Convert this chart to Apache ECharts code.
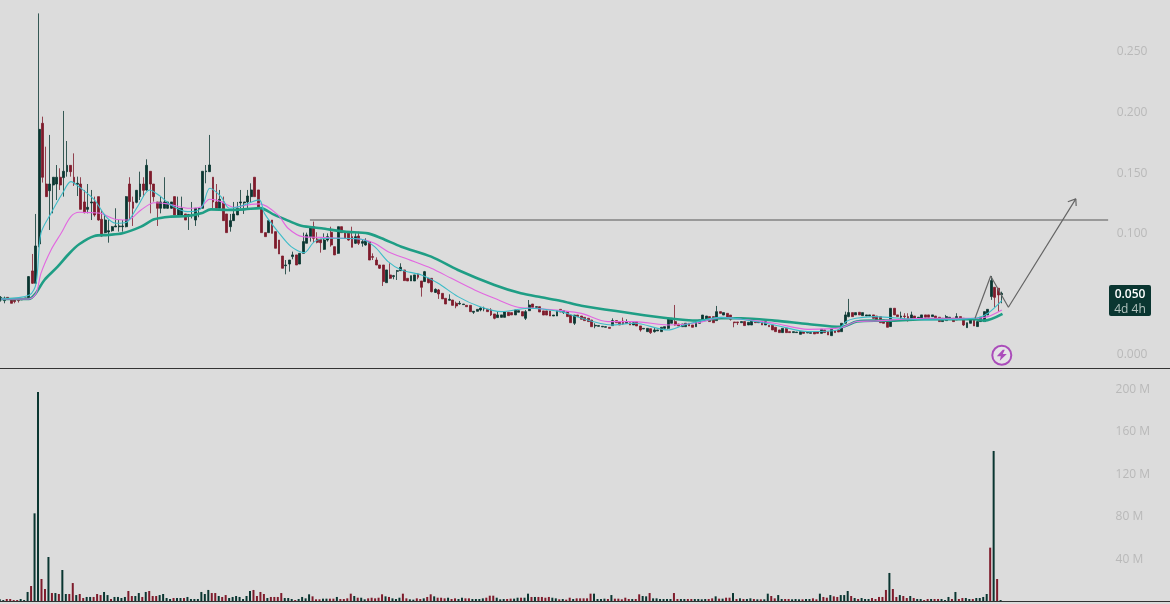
<!DOCTYPE html>
<html><head><meta charset="utf-8">
<style>html,body{margin:0;padding:0;background:#dcdcdc;overflow:hidden}#c{width:1170px;height:604px}</style>
<script src="https://cdn.jsdelivr.net/npm/echarts@6/dist/echarts.min.js"></script>
</head><body><div id="c"></div>
<script>
// Prices are in thousandths (0.050 = 50)
const directions = ["uudddduuud","uudduuuduu","ddudduuddd","uuuuuuuddu","ududdduuuu","duuduuuuuu","uddudduuuu","uuuddddudd","dduuuduuuu","ddduuddudd",
"dduduudddd","duduuudduu","dduddudddu","dduudduuuu","ddduuudduu","duududdddu","ududdudddd","duuuududdd","ududduuduu","uuuudduudd",
"uuuuddudud","ddduduudud","uddddudduu","uduudduddu","dduuududuu","uddddduddu","dduduuddud","duuududduu","duuuuuddu"].join("");
const bodyTop = [45.9,45.1,45.9,44.3,43.8,44.3,44.9,45.4,63,67.7,
88.3,184.5,189.5,139.4,139.4,145,145,145,149.9,154.8,
154.8,145,140,139.4,124.6,120.2,124.6,124.6,129,110.3,
109.7,100.9,104.2,104.8,104.8,104.8,129,139.4,124.6,134.2,
139.4,139.4,154.8,149.9,139.4,124.6,124.6,124.6,124.6,124.6,
129,119.4,119.4,114.7,114.2,114.2,119.4,119.4,149.9,150.2,
155.1,145,124.6,126.8,124.6,114.7,109.2,114.7,119.4,124.6,
124.6,129.5,134.5,145,134.5,119.4,99.3,109.2,109.7,100.1,
93.2,80,72.6,76.7,80.9,80.9,82.2,91.9,97.4,104.2,
104.2,94,93.8,93.2,96,99.6,87.7,104.2,104.2,99.6,
99.6,96,96,96.5,91.9,92.7,91.9,79.5,76.7,72.6,
72.6,68.5,64.4,63.8,67.9,70.7,68.5,61.6,63.8,64.4,
65.2,59.4,67.1,61.6,61.6,52.5,52,49.2,45.1,44.3,
43.7,41,41,40.4,39.3,39.3,34.4,36,37.1,36.9,
36,35.5,32.2,31.4,31.4,33.8,33.6,33.3,35.5,34.9,
34.1,34.1,39.6,40.4,38.2,38.2,34.7,34.7,34.7,31.3,
34.9,36,34.9,34.1,31.3,31.3,31.3,30.5,29.4,28.6,
27.2,22.8,22.6,22,21.7,21.2,26.7,26.7,25.9,26.4,
25.9,25,25,25.6,22.3,20.3,20.3,20,19,19,
21.2,21.7,28.6,28.6,25.9,23.9,23.9,24.5,24.5,23.1,
26.7,27.2,31.3,30.5,30,30,34.1,34.1,33.3,32.7,
31.3,25.6,25.6,25.9,25.9,25.3,26.7,25.9,25.6,25.9,
25.9,22.8,22.8,21.2,19,20.3,20.3,17.6,17.6,17.3,
17.6,17.6,17,16.8,17.6,17.6,19.5,19,17.6,19.5,
18.4,19,24.5,31.4,33.3,33.3,33.3,33.6,33.3,31.4,
31.4,31.4,30.5,30,27.3,25.9,36.9,36.9,31.4,30.5,
30.5,30,31.4,30.5,29.5,31.4,31.4,31.4,31.4,30.5,
29.5,28.6,30,29.5,28.6,30,30,28.6,25,27.3,
27.3,25.9,29.5,34.1,36,59.7,54.2,53.4,49.2];
const bodyBottom = [43.8,43.2,44.3,41,42.4,43.2,43.8,44.6,44.3,57.5,
57.5,90,145,129,133.9,138.6,139.4,138.6,144.7,149.6,
149.6,139.4,139.2,118.5,115.8,118.5,123.8,113.9,109.7,96.5,
99.3,99.8,100.9,104,104.2,104.2,104.2,124.9,119.4,124.3,
129,134.2,134.5,139.4,129,119.4,119.4,119.4,119.4,119.4,
113.9,113.9,113.9,109.7,113.6,113.6,109.7,118.8,119.4,149.6,
149.6,124.6,119.4,119.4,109.2,99.3,104.2,109.2,113.9,123.8,
123.8,124.6,129,129,119.4,99.3,96,99.3,98.7,86.4,
81.7,69.9,72,73.4,79.5,72.6,73.4,82.2,90.5,96,
94.6,91.3,91,85.5,93.2,89.1,80.9,82.2,99.3,94.6,
93.2,87.2,90.5,90.5,90.5,89.1,76.7,78.9,72.6,69.9,
58.9,58,61.6,63,67.4,67.9,59.7,59.4,59.4,59.4,
62.4,54.2,58.9,58,50.6,50,48.7,44.6,40.4,43.5,
39.3,38.8,40.4,39.9,38.2,34.1,33.6,34.4,35.5,36.3,
34.1,31.4,28.6,29.2,29.4,29.4,30.8,31.4,31.4,33.6,
30.5,28.6,34.9,37.7,37.7,33.8,31.3,31.3,30.5,30.5,
30.5,33.8,33.3,30,25,24.5,30,27.8,26.7,25.9,
21.7,22.3,22,21.5,21.2,20.3,22.6,25,23.1,23.9,
24.5,23.1,23.1,22.3,19,19.8,17.6,16.8,17.6,18.2,
17.6,20.3,20.3,24.5,23.1,22.3,21.7,21.7,22.3,21.2,
21.7,24.5,26.4,27.8,25.9,25,26.7,32.7,31.3,29.4,
27.8,25,25,25,22.6,23.1,23.1,25,25,23.1,
23.1,21.7,19,17.6,16.8,16.8,16.8,16.8,16.8,16.8,
15.4,16.2,16.5,16.2,15.7,16.2,16.2,16.8,14.9,14.3,
16.8,17.3,17.6,24.5,30,30,31.4,31.4,30.8,30.5,
30.5,28.6,27.3,25,24.5,21.2,21.8,31.4,30,29.5,
30,26.7,28.6,28.6,28.6,28.6,29.5,29.5,30,28.6,
25.9,25.9,26.7,27.8,25.9,27.3,27.8,23.1,20.9,24.5,
22.3,21.8,25.9,25.9,31.4,46.5,45.9,47.9,48.1];
const wickHigh = [47,46.5,46,44.3,43.8,44.3,44.9,45.4,63.5,81.7,
114.7,280.2,195,170.2,179.9,145,155.1,152.4,199.7,174.9,
154.8,164.7,145.5,145,134.5,139.4,134.5,129,129,118,
114.7,109.7,104.8,119.4,109.7,109.7,129.5,145,129,134.5,
149.6,145,159.8,149.9,139.4,124.6,129,145,124.6,124.6,
129,129,129,114.7,114.7,124.6,119.4,119.4,149.9,155.1,
179.9,145,139.4,134.5,129,114.7,114.7,124.6,124.6,134.5,
124.6,134.5,140,145,134.5,119.4,99.3,109.2,109.7,100.1,
93.2,80,76.7,76.7,83.6,80.9,82.2,99.3,99.3,104.2,
108.4,99.6,93.8,98.7,98.7,104.2,87.7,104.2,104.2,99.6,
99.6,104.2,98.7,100.1,93.8,94.6,91.9,82.2,78.9,72.6,
72.6,68.5,74,64.4,68.5,74,68.5,61.6,63.8,64.4,
65.7,59.4,67.7,61.6,61.6,53.3,52.8,49.2,45.1,48.4,
43.7,42.4,42.9,40.4,39.3,39.3,34.4,36,37.7,38.2,
36,36.9,32.2,34.1,31.4,33.8,33.6,33.3,35.5,34.9,
34.1,35.5,43.7,40.4,38.2,38.2,34.7,34.7,34.7,31.3,
34.9,36,34.9,34.1,31.3,31.3,31.3,30.5,29.4,28.6,
27.2,24.5,22.6,22,21.7,21.2,28.6,26.7,25.9,29.2,
27.8,25,25.9,25.6,22.3,20.3,20.3,20,21.2,19,
21.2,21.7,28.6,28.6,39.6,23.9,23.9,24.5,24.5,23.1,
26.7,27.2,31.3,30.5,30,30,38.8,34.1,33.3,32.7,
31.3,25.6,25.6,25.9,25.9,25.3,26.7,25.9,25.6,25.9,
25.9,22.8,22.8,21.2,19,20.3,20.3,17.6,17.6,17.3,
17.6,17.6,17,16.8,17.6,17.6,19.5,19,17.6,19.5,
18.4,19,24.5,34.1,44.6,33.3,33.3,33.6,33.3,31.4,
31.4,31.4,30.5,30,27.3,25.9,36.9,36.9,31.4,34.1,
32.8,32.8,34.1,30.5,29.5,31.4,31.4,31.4,31.4,30.5,
29.5,28.6,31.4,29.5,28.6,32.8,30,28.6,25,27.3,
27.3,25.9,29.5,34.1,36,63.5,54.2,53.4,50.6];
const wickLow = [42.4,41,44,41,41,41.6,43.7,44.4,43.7,57,
57.5,87.2,140.6,129,101.5,115.2,126.2,134.5,129,145.5,
145.5,137.8,129.5,118.5,115.2,115.2,109.7,112.5,109.2,96,
98.8,91,100.1,104,100.1,100.1,103.7,109.7,104.8,123.5,
126.2,129,133.9,115.2,124.9,104.8,115.2,119.4,119,119,
113.9,113.9,113,109.7,101.5,111,104.8,112,119.4,140,
149.6,119.4,119.4,119.4,109.2,99.3,100.1,109.2,113.9,119.4,
114.7,119.4,124.6,129,119.4,99.3,96,99.3,98.7,86.4,
81.7,69.9,64.9,67.1,77.3,72.6,73.4,82.2,90.5,91.9,
91,90.5,82.8,85,91.9,87.7,80.9,81.7,99.3,94.6,
92.7,87.2,89.9,89.1,87.7,88.6,76.7,76.7,72.6,69.3,
55.3,58,61.1,60.8,60.2,67.9,59.4,59.4,59.4,59.4,
60.8,46.5,58.6,57.5,50,49.5,44.6,44.6,40.4,43.2,
39.3,36.9,39.9,39.9,38.2,34.1,32.2,34.4,34.4,34.4,
34.1,30.5,27.8,29.2,29.4,29.4,30.8,31.4,31.4,33.6,
30.5,27.2,34.6,37.7,37.7,33.8,31.3,31.3,30.5,30.5,
30.5,33.8,32.2,30,25,23.1,30,27.8,26.7,25.9,
21.7,20.4,22,21.5,21.2,20.3,22.6,25,23.1,23.1,
24.5,23.1,23.1,22.3,17.6,19.8,17.6,15.7,16.8,18.2,
17.6,20.3,19.5,24.5,22.6,22.3,21.7,21.7,22.3,21.2,
21.7,24.5,26.4,27.8,25.9,25,26.7,32.7,31.3,29.4,
26.7,21.2,23.1,25,22.6,23.1,23.1,25,25,23.1,
23.1,21.7,19,17.6,16.8,16.8,16.8,16.8,16.8,16.8,
15.4,16.2,16.5,16.2,15.7,16.2,16.2,16.8,14.9,14.3,
16.8,17.3,17.6,24.5,29.5,30,31.4,31.4,30.8,30.5,
30.5,28.6,27.3,25,24.5,21.2,21.8,31.4,30,27.3,
26.7,25.9,28.6,28.6,28.6,28.6,29.5,29.5,30,28.6,
25.9,25.9,26.7,27.8,25.9,27.3,27.8,22.3,20.9,24.5,
22.3,21.8,25.9,25.9,31.4,43.8,37.7,34.1,41];
// Volume in millions
const volumes = [1.6,.9,1.9,1.9,.9,.9,1.9,.9,8.5,14.1,
82.5,196.7,20.7,11.3,41.4,7.5,7.5,6.6,29.2,6.6,
6.6,16.9,5.6,6.6,2.8,3.8,3.8,3.8,6.6,5.6,
8.5,5.6,1.9,3.8,3.8,2.8,3.8,9.4,4.7,4.7,
7.5,3.8,8.5,9.4,4.7,4.7,5.6,6.6,2.8,1.9,
2.8,2.8,2.8,2.8,3.8,1.9,1.9,1.9,8.5,6.6,
10.4,7.5,7.5,4.7,3.8,5.6,2.8,3.8,4.7,3.8,
1.9,4.7,9.4,10.4,4.7,8.5,6.6,2.8,3.8,3.8,
3.8,7.5,2.8,2.8,1.9,.9,1.9,
3.8,2.5,6.3,4.4,1.6,1.6,2.2,2.2,2.2,2.2,3.8,1.9,1.9,2.5,6.9,4.7,3.1,3.1,1.6,2.5,
3.1,2.5,3.1,6.3,4.4,3.8,2.5,1.9,3.1,6.9,2.5,1.6,1.3,2.5,1.9,2.5,3.8,6.3,4.4,3.1,
3.1,2.5,3.1,1.9,2.5,1.9,3.1,2.5,2.5,1.9,1.9,1.9,2.5,3.1,5,5,3.1,1.6,1.9,1.9,
2.2,2.2,3.1,3.1,3.1,6.9,3.8,3.8,3.8,3.8,3.1,3.8,3.1,2.5,1.6,1.9,1.3,3.1,1.9,2.5,2.5,2.5,
2.5,6.9,6.9,1.9,1.9,2.2,1.9,5.6,2.2,2.2,1.6,3.1,1.9,1.9,1.9,6.3,4.7,4.4,7.5,2.5,
2.5,1.9,1.9,1.9,1.9,7.5,1.9,1.9,1.9,1.9,1.9,1.9,1.9,1.6,1.9,1.9,2.5,4.4,2.2,2.2,
3.1,3.1,7.5,1.9,2.5,1.9,1.9,2.5,1.9,1.6,1.6,1.6,6.9,4.7,2.5,5.6,1.9,1.9,1.9,1.6,
1.9,1.6,1.6,1.9,1.9,2.5,1.6,6.9,3.8,3.1,5.6,4.4,3.8,5.6,5.6,9.4,
4.7,2.8,1.9,2.8,1.9,1.9,2.8,1.9,3.8,3.8,10.4,26.4,11.3,3.8,5.6,4.7,2.8,4.7,2.8,1.9,
1.9,.9,1.9,1.9,1.9,1.9,1.9,.9,3.8,1.9,8.5,1.9,2.8,2.8,1.9,1.9,2.8,2.8,3.8,6.6,
50.2,141.2,20.7,.9];
const volumeRedAt = [15,32,180,285];
const volumeDarkAt = [211,221,224,286];
// Moving averages as [bar position, price]
const emaSlow = [[0,44.5],[8,44.5],[10,49.2],[12.5,60.2],[16.3,71.2],[19.7,82.3],[22.5,89.7],[26.9,96.5],[30.7,97.4],[35,98.8],[40.3,104.3],[44.1,110.3],[48.9,112.5],[53.7,113],[57.6,115.2],[60.4,118.5],[65.2,118],[70,118.5],[74.6,119.5],[78.7,113.9],[82.6,109.2],[86.4,105],[92.2,102.9],[98.8,100.1],[105.6,98.7],[109.5,94.6],[115.2,87.7],[123.8,79.5],[131.5,68.5],[142,56.1],[149.6,49.2],[155.5,45.9],[161.2,42.9],[167,39],[179.4,33.6],[191.9,28.6],[200.5,26.7],[207.3,28.6],[213,28.6],[222.6,26.7],[232.2,23.9],[241.8,21.5],[246.3,25.9],[251.4,26.7],[256.2,26.7],[265.8,27.8],[280.2,27.8],[283,26.7],[288.2,32.2]];
const emaMid = [[0,44.5],[8,44.5],[10.1,49.2],[11.5,65.7],[14.4,85],[17.3,98.8],[20.1,112.5],[22.5,116.1],[25.9,115.8],[28.8,115.2],[32.6,110.6],[36.5,109.7],[40.3,118],[44.1,124],[48,123],[53.7,119.4],[57.6,120.7],[60,126.8],[63.3,124.9],[67.1,120.2],[71,122.1],[74.5,123],[79.7,113.9],[82.6,102.9],[86.8,96],[92.2,95.4],[97.9,94.6],[103.7,93.8],[107.5,90.5],[111.4,83.6],[117.1,77.3],[123.8,69.9],[129.6,61.6],[136.3,52],[142,45.1],[148.8,37.7],[153.5,36.9],[161.2,35],[167,32.7],[174.6,25.9],[182.3,25.9],[191.9,23.1],[200.5,25],[207.3,29.4],[213,27.8],[222.6,24.5],[232.2,19.5],[241.8,20.9],[246.3,26],[251.4,26.4],[265.8,28.6],[280.2,28.6],[284,30],[288,35.5]];
const emaFast = [[0,44.5],[8.2,47.9],[10.1,57.5],[11.5,98.8],[14.4,115.3],[17.7,131.8],[20.1,141.4],[23,135.9],[26.9,126.3],[30.2,112.5],[33.1,107],[36,107.6],[39.3,120.8],[42.7,134.5],[46,129],[48.9,122.1],[53.7,116.6],[57.6,119.4],[60.1,135.9],[63.3,129],[65.7,119.4],[69.1,121.3],[74.3,126.3],[75.8,115.2],[79.7,100.1],[83.5,87.7],[87.3,82.8],[90.2,91.9],[94,94.6],[97.9,94.6],[103.7,93.8],[107.5,87.7],[111.4,75.4],[115.2,68.5],[121,64.4],[125.8,57.5],[131.5,46.5],[137.3,38.8],[144,34.1],[151.6,36.9],[161.2,34.1],[165,30.5],[175.6,23.1],[182.3,24.5],[191.9,19],[196.7,23.1],[207.3,29.4],[213,27.8],[222.6,23.1],[232.2,17.6],[240.8,19],[243.2,25.9],[246,28.6],[251.4,30],[265.8,27.3],[280.2,28.6],[284,32.8],[288,43.2]];
const levelLine = [[88.9,109.7],[318.6,109.7]];
const projection = [[280.3,28.6],[284.8,63.5],[289.9,37.7],[309.3,127.1]];
const arrowHead = [[307,124.8],[309.3,127.1],[309.4,121.3]];
const flashMark = [[288,-1.9]];
const priceTicks = [0,100,150,200,250];
const volumeTicks = [40,80,120,160,200];
const lastPrice = "0.050", countdown = "4d 4h";

const DARK = "#0a3631", RED = "#7e1b2b";
const TOTAL_SLOTS = 338, SLOT = 3.475;
const categories = Array.from({length: TOTAL_SLOTS}, (_, i) => String(i));
const candles = bodyTop.map((t, i) => {
  const up = directions[i] === "u";
  return [up ? bodyBottom[i] : t, up ? t : bodyBottom[i], wickLow[i], wickHigh[i]];
});
const volumeBars = volumes.map((v, i) => {
  let up = directions[i] === "u";
  if (volumeRedAt.includes(i)) up = false;
  if (volumeDarkAt.includes(i)) up = true;
  return {value: v, itemStyle: {color: up ? DARK : RED}};
});
const plotWidth = TOTAL_SLOTS * SLOT;
const labelBase = {inside: true, align: "left", margin: 57, color: "#b9b9b9", fontFamily: "Open Sans", fontSize: 12, verticalAlign: "top"};
const lineBase = {type: "line", xAxisIndex: 2, yAxisIndex: 0, showSymbol: false, symbol: "none", silent: true, animation: false, z: 4};
const separator = {onZero: false, lineStyle: {color: "#333", width: 1}};
const chart = echarts.init(document.getElementById("c"), null, {renderer: "canvas"});
chart.setOption({
  animation: false,
  backgroundColor: "#dcdcdc",
  grid: [
    {left: -0.74, top: 0, width: plotWidth, height: 368, outerBoundsMode: "none"},
    {left: -1.94, top: 370, width: plotWidth, height: 231, outerBoundsMode: "none"}
  ],
  xAxis: [
    {type: "category", gridIndex: 0, data: categories, axisTick: {show: false}, axisLabel: {show: false}, axisLine: separator, splitLine: {show: false}},
    {type: "category", gridIndex: 1, data: categories, axisTick: {show: false}, axisLabel: {show: false}, axisLine: separator, splitLine: {show: false}},
    {type: "value", gridIndex: 0, min: -0.5, max: TOTAL_SLOTS - 0.5, show: false}
  ],
  yAxis: [
    {type: "value", gridIndex: 0, position: "right", scale: true, min: -12.4, max: 291.25, splitLine: {show: false}, axisLine: {show: false}, axisTick: {show: false},
     axisLabel: Object.assign({}, labelBase, {lineHeight: 4, customValues: priceTicks, formatter: v => (v / 1000).toFixed(3)})},
    {type: "value", gridIndex: 1, position: "right", min: 0, max: 217.4, splitLine: {show: false}, axisLine: {show: false}, axisTick: {show: false},
     axisLabel: Object.assign({}, labelBase, {lineHeight: 2, customValues: volumeTicks, formatter: v => v + " M"})}
  ],
  series: [
    {type: "candlestick", xAxisIndex: 0, yAxisIndex: 0, data: candles, barWidth: 2.4, silent: true, z: 3,
     itemStyle: {color: DARK, color0: RED, borderColor: DARK, borderColor0: RED, borderWidth: 0.8}},
    {type: "bar", xAxisIndex: 1, yAxisIndex: 1, data: volumeBars, barWidth: 2, silent: true},
    Object.assign({}, lineBase, {data: emaSlow, smooth: 0.3, lineStyle: {color: "#1f9e85", width: 2.6}}),
    Object.assign({}, lineBase, {data: emaMid, smooth: 0.3, lineStyle: {color: "#e267e0", width: 1.1}}),
    Object.assign({}, lineBase, {data: emaFast, smooth: 0.3, lineStyle: {color: "#3dbcc8", width: 1.1}}),
    Object.assign({}, lineBase, {data: levelLine, lineStyle: {color: "#999", width: 2}}),
    Object.assign({}, lineBase, {data: projection, lineStyle: {color: "#666", width: 1.2}, z: 5}),
    Object.assign({}, lineBase, {data: arrowHead, lineStyle: {color: "#666", width: 1.2}, z: 5}),
    {type: "scatter", xAxisIndex: 2, yAxisIndex: 0, data: flashMark, symbol: "circle", symbolSize: 19, silent: true, z: 6,
     itemStyle: {color: "#e6e3e8", borderColor: "#9c27b0", borderWidth: 2}},
    {type: "scatter", xAxisIndex: 2, yAxisIndex: 0, data: flashMark, symbol: "path://M6 0L0 7H4L3 12L10 4.5H6L8 0Z", symbolSize: [10, 11], silent: true, z: 7,
     itemStyle: {color: "#9c27b0"}}
  ],
  graphic: [
    {type: "rect", shape: {x: 1109, y: 285, width: 42, height: 31, r: 2}, style: {fill: "#0a3631"}, z: 20},
    {type: "text", x: 1130, y: 295, style: {text: lastPrice, fill: "#ffffff", font: "600 12px 'Open Sans'", textAlign: "center", textVerticalAlign: "middle"}, z: 21},
    {type: "text", x: 1130, y: 310, style: {text: countdown, fill: "#b4c4c0", font: "12px 'Open Sans'", textAlign: "center", textVerticalAlign: "middle"}, z: 21}
  ]
});
</script></body></html>
